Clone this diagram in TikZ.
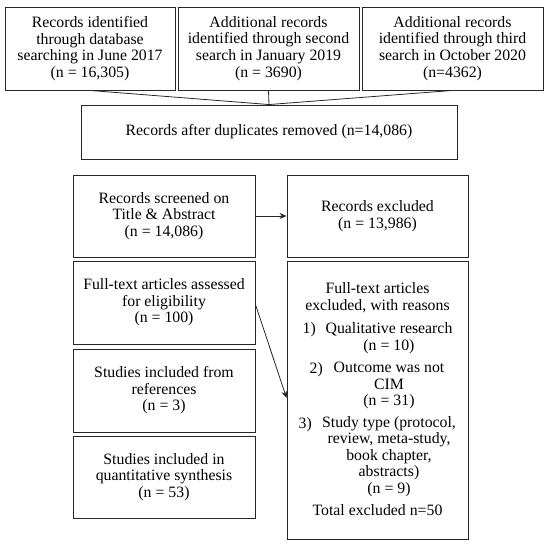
\documentclass[tikz,border=0pt]{standalone}
\usepackage{fontspec}
\setmainfont{Liberation Serif}
\usetikzlibrary{arrows.meta,calc}
\begin{document}
\begin{tikzpicture}[x=1pt,y=-1pt,
  box/.style={draw=black!85,line width=0.9pt,rectangle,inner sep=0pt,align=center,
    font=\fontsize{15.8}{16.6}\selectfont},
  txt/.style={inner sep=0pt,align=center,font=\fontsize{15.8}{16.6}\selectfont},
  conn/.style={draw=black!85,line width=0.8pt},
  arr/.style={conn,-{Stealth[length=7pt,width=6pt]}}]
\useasboundingbox (0,0) rectangle (550,548);
% top row
\node[box,minimum width=170,minimum height=83] (b1) at (90,48.5)
  {Records identified\\through database\\searching in June 2017\\(n = 16,305)};
\node[box,minimum width=181,minimum height=83] (b2) at (268.5,48.5)
  {Additional records\\identified through second\\search in January 2019\\(n = 3690)};
\node[box,minimum width=181,minimum height=83] (b3) at (452.5,48.5)
  {Additional records\\identified through third\\search in October 2020\\(n=4362)};
\node[box,minimum width=376,minimum height=54] (dup) at (269,132)
  {Records after duplicates removed (n=14,086)};
% left column
\node[box,minimum width=182,minimum height=82] (scr) at (164,216)
  {Records screened on\\Title \& Abstract\\(n = 14,086)};
\node[box,minimum width=182,minimum height=83] (fta) at (164,302.5)
  {Full-text articles assessed\\for eligibility\\(n = 100)};
\node[box,minimum width=182,minimum height=83] (ref) at (164,390.5)
  {Studies included from\\references\\(n = 3)};
\node[box,minimum width=182,minimum height=82] (syn) at (164,477)
  {Studies included in\\quantitative synthesis\\(n = 53)};
% right column
\node[box,minimum width=181,minimum height=82] (exc) at (377.5,216)
  {Records excluded\\(n = 13,986)};
\node[box,minimum width=181,minimum height=278] (fte) at (377.5,400) {};
\node[txt] (fth) at (377.5,297.5) {Full-text articles\\excluded, with reasons};
\node[txt] (i1) at (389,338) {Qualitative research\\(n = 10)};
\node[txt,anchor=east] (n1) at (316,330) {1)};
\node[txt] (i2) at (389,385.5) {Outcome was not\\CIM\\(n = 31)};
\node[txt,anchor=east] (n2) at (323,370) {2)};
\node[txt] (i3) at (389,456.5) {Study type (protocol,\\review, meta-study,\\book chapter,\\abstracts)\\(n = 9)};
\node[txt,anchor=east] (n3) at (312,425) {3)};
\node[txt] (tot) at (377.5,510) {Total excluded n=50};
% connectors
\draw[conn] (b1.south) -- (dup.north);
\draw[conn] (b2.south) -- (dup.north);
\draw[conn] (b3.south) -- (dup.north);
\draw[arr] (scr.east) -- (exc.west);
\draw[arr] ($(fta.east)+(0,2)$) -- ($(fte.west)+(0,-2)$);
\end{tikzpicture}
\end{document}
